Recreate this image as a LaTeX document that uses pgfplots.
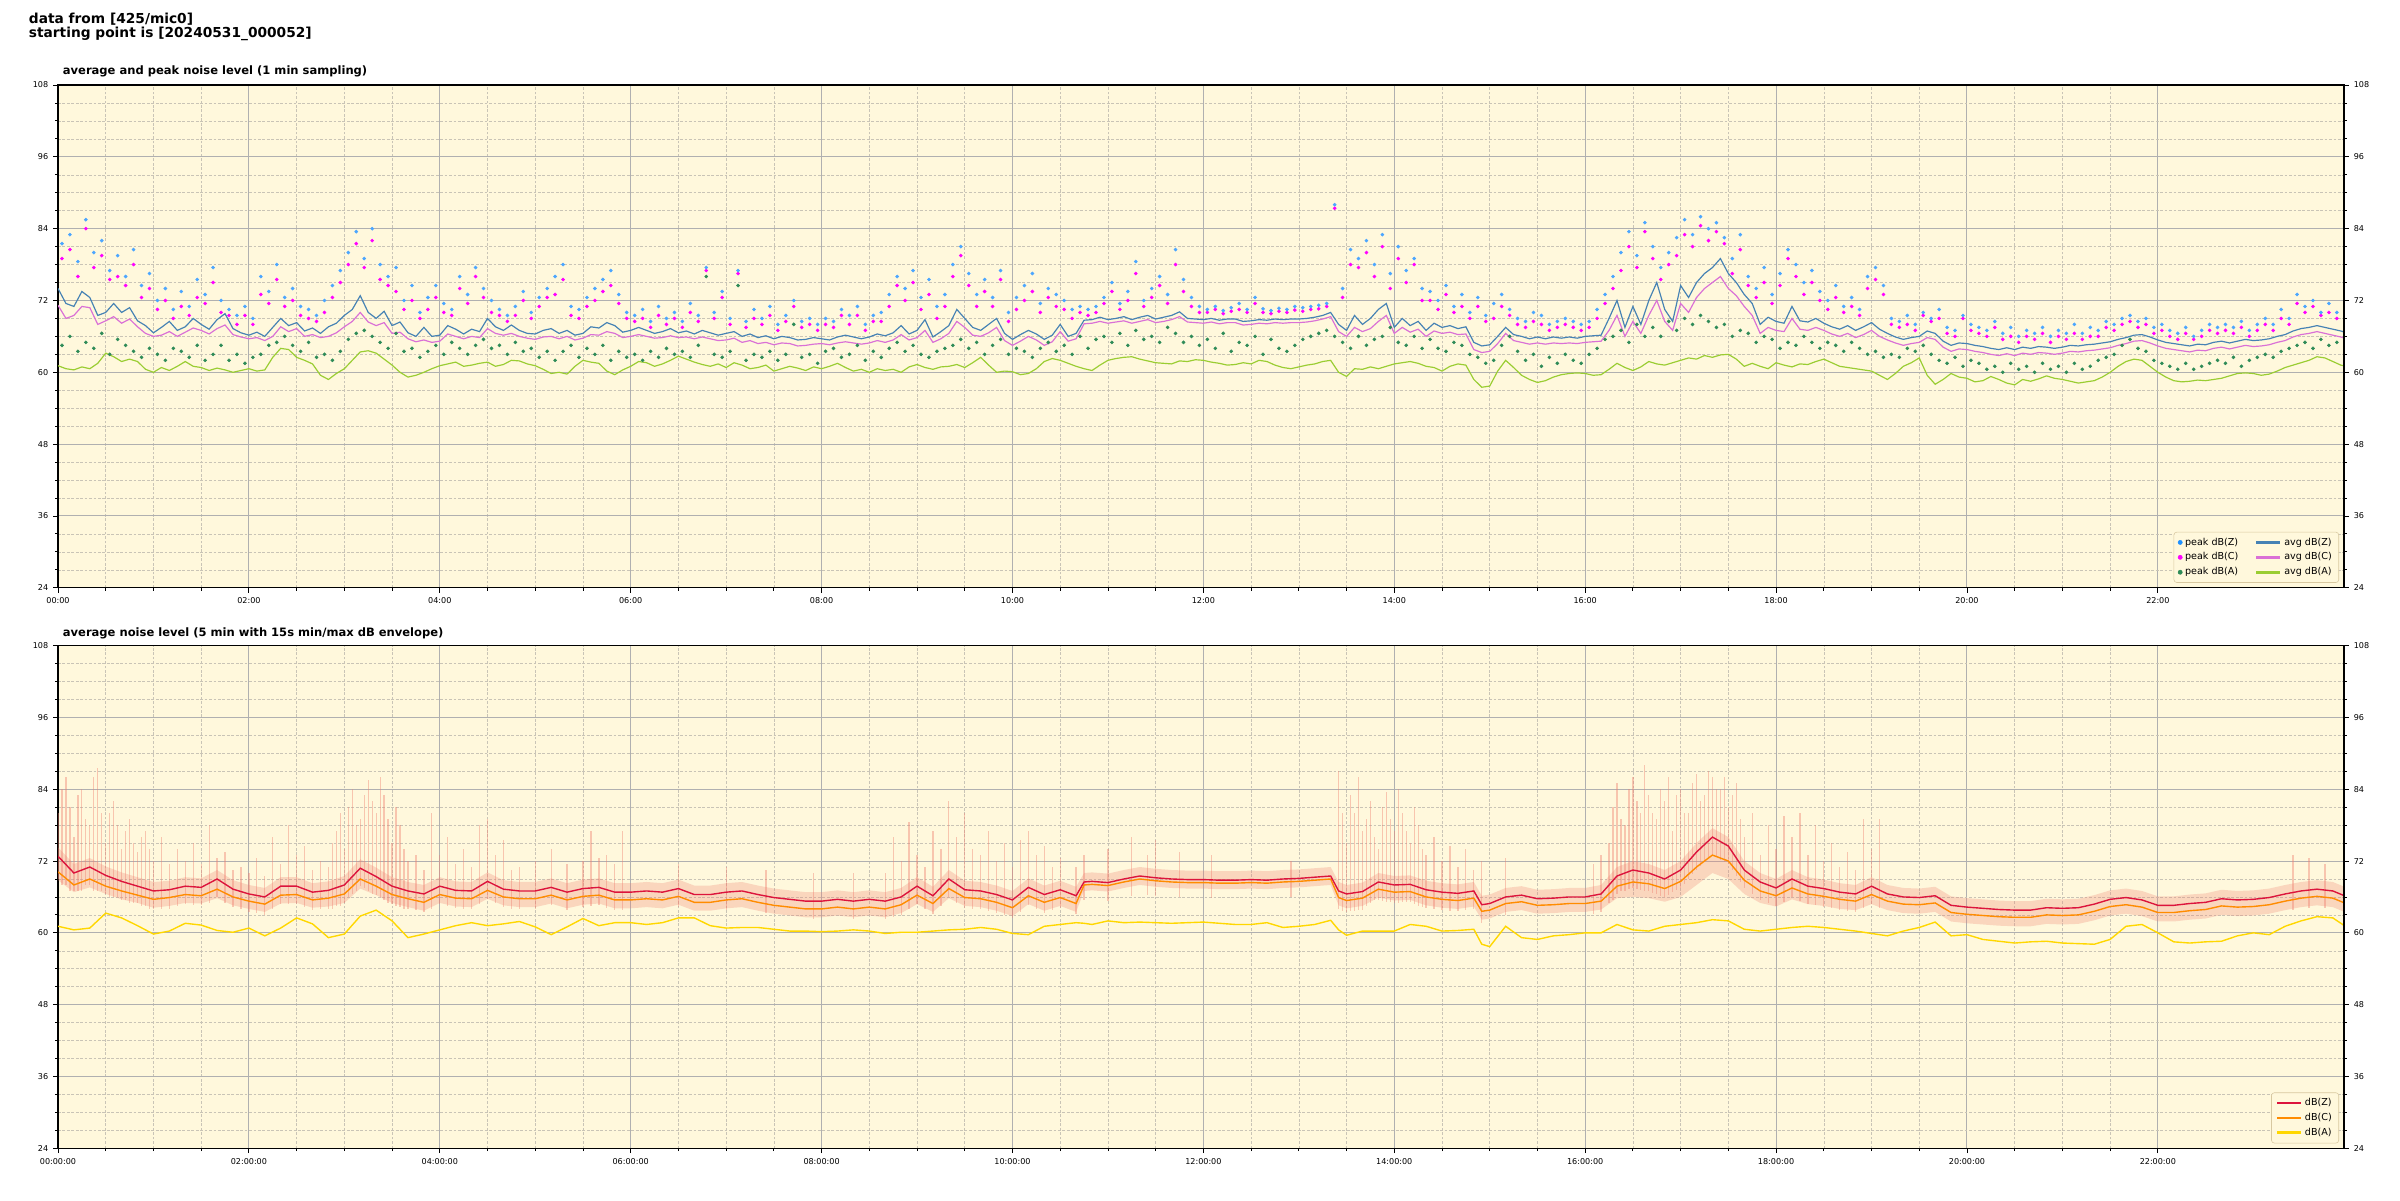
\documentclass[border=0pt]{standalone}
\usepackage{fontspec}
\setmainfont{DejaVu Sans}
\usepackage{pgfplots}
\pgfplotsset{compat=1.18}
\usepackage{pgfplotstable}
\definecolor{bg}{HTML}{FFF8DC}
\definecolor{pkz}{HTML}{1E90FF}
\definecolor{pkc}{HTML}{FF00FF}
\definecolor{pka}{HTML}{2E8B57}
\definecolor{avz}{HTML}{4682B4}
\definecolor{avc}{HTML}{DA70D6}
\definecolor{ava}{HTML}{9ACD32}
\definecolor{dbz}{HTML}{DC143C}
\definecolor{dbc}{HTML}{FF8C00}
\definecolor{dba}{HTML}{FFD700}
\definecolor{env}{HTML}{F08070}
\definecolor{gridmaj}{HTML}{B0B0B0}
\definecolor{gridmin}{HTML}{C9C4B6}
\definecolor{legframe}{HTML}{D8C8A0}

% top chart: 1-min averages (read at 5-min steps)
\pgfplotstableread[row sep=\\]{
t z c a\\
0 74.0 71.2 61.1\\ 5 71.5 69.0 60.6\\ 10 71.0 69.5 60.4\\ 15 73.5 71.0 60.9\\ 20 72.5 70.8 60.6\\ 25 69.5 68.0 61.5\\
30 70.0 68.6 63.2\\ 35 71.5 69.3 62.6\\ 40 70.0 68.2 61.8\\ 45 70.8 68.9 62.2\\ 50 68.6 67.6 61.8\\ 55 67.8 66.5 60.5\\
60 66.6 66.0 60.0\\ 65 67.5 66.2 60.8\\ 70 68.5 66.8 60.3\\ 75 67.0 66.0 61.0\\ 80 67.6 66.7 61.8\\ 85 69.0 67.4 61.0\\
90 68.0 67.0 60.8\\ 95 67.2 66.4 60.3\\ 100 68.8 67.3 60.7\\ 105 69.8 67.9 60.4\\ 110 67.3 66.3 60.0\\ 115 66.6 65.9 60.3\\
120 66.2 65.6 60.6\\ 125 66.7 65.8 60.2\\ 130 66.0 65.3 60.4\\ 135 67.5 66.0 62.5\\ 140 69.0 67.6 64.0\\ 145 67.8 66.8 63.8\\
150 68.3 67.3 62.5\\ 155 66.9 66.0 62.0\\ 160 67.4 66.3 61.4\\ 165 66.5 65.8 59.5\\ 170 67.6 66.0 58.8\\ 175 68.2 66.6 59.8\\
180 69.5 67.6 60.6\\ 185 70.5 68.5 62.0\\ 190 72.8 70.0 63.4\\ 195 70.0 68.4 63.6\\ 200 69.0 67.8 63.2\\ 205 70.2 68.3 62.2\\
210 67.8 66.5 61.2\\ 215 68.4 66.7 60.0\\ 220 66.6 65.6 59.2\\ 225 66.0 65.1 59.5\\ 230 67.5 65.4 60.0\\ 235 66.0 65.0 60.6\\
240 66.2 65.2 61.1\\ 245 67.8 66.4 61.4\\ 250 67.2 66.0 61.7\\ 255 66.4 65.6 61.0\\ 260 67.2 66.0 61.2\\ 265 66.8 65.8 61.5\\
270 69.0 67.3 61.7\\ 275 67.6 66.5 61.0\\ 280 67.0 66.2 61.3\\ 285 67.9 66.5 62.0\\ 290 67.0 66.0 61.9\\ 295 66.5 65.7 61.4\\
300 66.4 65.5 61.1\\ 305 67.0 65.9 60.5\\ 310 67.3 66.0 59.8\\ 315 66.5 65.6 60.0\\ 320 67.0 66.0 59.7\\ 325 66.2 65.4 61.0\\
330 66.5 65.7 62.0\\ 335 67.6 66.3 61.7\\ 340 67.4 66.2 61.5\\ 345 68.3 66.8 60.2\\ 350 67.8 66.5 59.6\\ 355 66.7 65.8 60.4\\
360 67.0 66.0 61.0\\ 365 67.5 66.3 61.8\\ 370 67.0 66.0 61.6\\ 375 66.5 65.7 61.0\\ 380 66.8 65.8 61.4\\ 385 67.3 66.1 62.0\\
390 66.6 65.8 62.7\\ 395 66.9 65.9 62.2\\ 400 66.4 65.6 61.7\\ 405 67.0 65.9 61.3\\ 410 66.6 65.6 61.0\\ 415 66.2 65.3 61.4\\
420 66.5 65.4 60.8\\ 425 66.8 65.7 61.6\\ 430 66.0 65.0 61.2\\ 435 66.4 65.3 60.6\\ 440 65.8 64.8 60.8\\ 445 66.1 65.0 61.2\\
450 65.6 64.6 60.2\\ 455 66.0 64.9 60.6\\ 460 65.8 64.8 61.0\\ 465 65.4 64.4 60.7\\ 470 65.5 64.5 60.3\\ 475 65.8 64.7 60.9\\
480 65.6 64.8 60.6\\ 485 65.4 64.6 61.0\\ 490 65.9 64.9 61.5\\ 495 66.2 65.1 60.8\\ 500 65.9 64.9 60.2\\ 505 65.6 64.7 60.5\\
510 65.9 64.9 60.0\\ 515 66.4 65.3 60.6\\ 520 66.1 65.0 60.3\\ 525 66.6 65.4 60.5\\ 530 67.8 66.3 60.0\\ 535 66.4 65.4 60.9\\
540 67.0 65.8 61.3\\ 545 68.8 67.0 60.8\\ 550 65.9 65.0 60.5\\ 555 66.8 65.6 60.9\\ 560 67.8 66.5 61.0\\ 565 70.5 68.5 61.3\\
570 69.0 67.5 60.8\\ 575 67.5 66.2 61.6\\ 580 67.0 66.0 62.5\\ 585 68.0 66.6 61.2\\ 590 69.0 67.5 60.0\\ 595 66.5 65.3 60.2\\
600 65.5 64.5 60.1\\ 605 66.3 65.2 59.6\\ 610 67.0 66.0 59.8\\ 615 66.4 65.4 60.6\\ 620 65.5 64.5 61.8\\ 625 66.2 65.1 62.3\\
630 68.0 66.8 62.0\\ 635 66.0 65.2 61.5\\ 640 66.5 65.6 61.0\\ 645 68.7 68.1 60.6\\ 650 68.8 68.2 60.3\\ 655 69.2 68.5 61.2\\
660 68.8 68.2 62.0\\ 665 69.0 68.4 62.3\\ 670 69.3 68.6 62.5\\ 675 68.8 68.2 62.6\\ 680 69.2 68.5 62.2\\ 685 69.5 68.8 61.9\\
690 68.9 68.3 61.6\\ 695 69.2 68.5 61.5\\ 700 69.5 68.8 61.4\\ 705 70.1 69.3 61.9\\ 710 69.0 68.4 61.8\\ 715 68.9 68.3 62.1\\
720 68.8 68.2 62.0\\ 725 69.0 68.4 61.7\\ 730 68.7 68.1 61.5\\ 735 68.9 68.3 61.2\\ 740 68.9 68.3 61.3\\ 745 68.5 67.9 61.6\\
750 68.6 68.0 61.4\\ 755 68.8 68.2 62.0\\ 760 68.7 68.1 61.8\\ 765 68.9 68.3 61.2\\ 770 68.8 68.2 60.8\\ 775 68.9 68.3 60.6\\
780 68.9 68.3 60.9\\ 785 69.0 68.4 61.2\\ 790 69.2 68.6 61.4\\ 795 69.5 68.9 61.8\\ 800 70.0 69.3 62.0\\ 805 68.0 66.8 60.0\\
810 67.0 66.0 59.3\\ 815 69.5 67.5 60.6\\ 820 68.0 66.8 60.5\\ 825 69.0 67.3 60.9\\ 830 70.5 68.5 60.6\\ 835 71.5 69.5 61.0\\
840 67.5 66.5 61.4\\ 845 69.0 67.5 61.6\\ 850 67.8 66.7 61.8\\ 855 68.5 67.2 61.5\\ 860 67.0 66.0 61.0\\ 865 68.2 66.9 60.8\\
870 67.5 66.5 60.2\\ 875 67.8 66.7 61.0\\ 880 67.3 66.3 61.4\\ 885 67.6 66.4 61.2\\ 890 65.0 63.8 58.8\\ 895 64.4 63.3 57.5\\
900 64.6 63.5 57.7\\ 905 66.0 64.8 60.2\\ 910 67.5 66.5 62.0\\ 915 66.3 65.3 60.8\\ 920 66.0 65.0 59.5\\ 925 65.6 64.7 58.8\\
930 65.9 64.9 58.3\\ 935 65.6 64.7 58.6\\ 940 65.9 64.9 59.2\\ 945 65.7 64.8 59.6\\ 950 65.9 64.9 59.8\\ 955 65.7 64.8 59.9\\
960 66.0 65.0 59.8\\ 965 66.1 65.1 59.5\\ 970 66.2 65.2 59.6\\ 975 69.0 67.0 60.5\\ 980 72.0 69.5 61.5\\ 985 67.5 66.0 60.8\\
990 71.0 68.5 60.3\\ 995 68.0 66.5 60.9\\ 1000 72.0 69.5 61.8\\ 1005 75.0 72.0 61.4\\ 1010 70.5 68.5 61.2\\ 1015 68.5 67.0 61.6\\
1020 74.5 71.5 62.0\\ 1025 72.5 70.0 62.4\\ 1030 75.0 72.5 62.2\\ 1035 76.5 74.0 62.8\\ 1040 77.5 75.0 62.5\\ 1045 79.0 76.0 62.9\\
1050 76.5 74.0 63.0\\ 1055 75.0 72.8 62.2\\ 1060 73.0 71.0 61.0\\ 1065 71.5 69.5 61.5\\ 1070 68.0 66.5 61.0\\ 1075 69.2 67.5 60.6\\
1080 68.5 67.0 61.6\\ 1085 68.2 66.8 61.2\\ 1090 71.0 69.0 60.9\\ 1095 68.6 67.2 61.4\\ 1100 68.4 67.0 61.3\\ 1105 69.0 67.5 61.8\\
1110 68.2 67.0 62.2\\ 1115 67.6 66.4 61.6\\ 1120 67.2 66.0 61.0\\ 1125 67.8 66.5 60.8\\ 1130 67.0 65.8 60.6\\ 1135 67.6 66.3 60.4\\
1140 68.3 67.0 60.2\\ 1145 67.2 66.0 59.5\\ 1150 66.5 65.4 58.8\\ 1155 65.9 64.9 59.8\\ 1160 65.5 64.5 61.0\\ 1165 65.8 64.8 61.6\\
1170 66.0 65.0 62.4\\ 1175 66.9 65.8 59.5\\ 1180 66.5 65.5 58.0\\ 1185 65.2 64.2 58.8\\ 1190 64.5 63.5 59.8\\ 1195 64.9 63.9 59.2\\
1200 64.8 63.8 59.0\\ 1205 64.5 63.5 58.4\\ 1210 64.3 63.3 58.6\\ 1215 64.0 63.0 59.3\\ 1220 63.8 62.8 58.8\\ 1225 64.1 63.1 58.2\\
1230 63.8 62.8 57.9\\ 1235 64.2 63.2 58.8\\ 1240 64.0 63.0 58.5\\ 1245 64.3 63.3 58.9\\ 1250 64.2 63.2 59.4\\ 1255 64.0 63.0 59.0\\
1260 64.2 63.2 58.8\\ 1265 64.5 63.5 58.5\\ 1270 64.4 63.4 58.2\\ 1275 64.6 63.6 58.4\\ 1280 64.7 63.7 58.6\\ 1285 64.9 63.9 59.2\\
1290 65.1 64.1 60.0\\ 1295 65.5 64.5 61.0\\ 1300 65.8 64.8 61.8\\ 1305 66.2 65.2 62.2\\ 1310 66.3 65.3 62.0\\ 1315 65.9 64.9 61.0\\
1320 65.4 64.4 60.0\\ 1325 65.0 64.0 59.2\\ 1330 64.8 63.8 58.6\\ 1335 64.6 63.6 58.4\\ 1340 64.4 63.4 58.5\\ 1345 64.7 63.7 58.7\\
1350 64.6 63.6 58.6\\ 1355 65.0 64.0 58.8\\ 1360 65.2 64.2 59.0\\ 1365 64.9 63.9 59.4\\ 1370 65.2 64.2 59.8\\ 1375 65.5 64.5 59.9\\
1380 65.3 64.3 59.8\\ 1385 65.4 64.4 59.5\\ 1390 65.6 64.6 59.7\\ 1395 66.0 65.0 60.2\\ 1400 66.3 65.3 60.8\\ 1405 66.9 65.9 61.2\\
1410 67.3 66.3 61.6\\ 1415 67.5 66.5 62.0\\ 1420 67.8 66.8 62.6\\ 1425 67.5 66.5 62.4\\ 1430 67.2 66.2 61.8\\ 1435 66.9 65.9 61.2\\
1440 66.5 65.5 60.9\\
}\avgtab

% top chart: peaks
\pgfplotstableread[row sep=\\]{
t z c a\\
2.5 81.5 79.0 64.5\\ 7.5 83.0 80.5 66.0\\ 12.5 78.5 76.0 63.5\\ 17.5 85.5 84.0 65.0\\ 22.5 80.0 77.5 64.0\\
27.5 82.0 79.5 66.5\\ 32.5 77.0 75.5 63.0\\ 37.5 79.5 76.0 65.5\\ 42.5 76.0 74.5 64.5\\ 47.5 80.5 78.0 63.5\\
52.5 74.5 72.5 62.5\\ 57.5 76.5 74.0 64.0\\ 62.5 72.0 70.5 63.0\\ 67.5 74.0 72.0 62.0\\ 72.5 70.5 69.0 64.0\\
77.5 73.5 71.0 63.5\\ 82.5 71.0 69.5 62.5\\ 87.5 75.5 72.5 64.5\\ 92.5 73.0 71.5 62.0\\ 97.5 77.5 75.0 63.0\\
102.5 72.0 70.0 64.5\\ 107.5 70.5 69.5 62.0\\ 112.5 69.5 68.0 63.0\\ 117.5 71.0 69.5 61.5\\ 122.5 69.0 68.0 62.5\\
127.5 76.0 73.0 63.0\\ 132.5 73.5 71.5 64.5\\ 137.5 78.0 75.5 65.0\\ 142.5 72.5 71.0 66.0\\ 147.5 74.0 72.0 64.5\\
152.5 71.0 69.5 63.5\\ 157.5 70.5 69.0 65.0\\ 162.5 69.5 68.5 62.5\\ 167.5 72.0 70.0 63.0\\ 172.5 74.5 72.5 62.0\\
177.5 77.0 75.0 63.5\\ 182.5 80.0 78.0 65.5\\ 187.5 83.5 81.5 66.5\\ 192.5 79.0 77.5 67.0\\ 197.5 84.0 82.0 66.0\\
202.5 78.0 75.5 65.0\\ 207.5 76.0 74.5 64.0\\ 212.5 77.5 73.5 66.5\\ 217.5 72.0 70.5 63.5\\ 222.5 74.5 72.0 64.0\\
227.5 70.0 69.0 62.5\\ 232.5 72.5 70.5 63.5\\ 237.5 74.5 72.5 64.5\\ 242.5 71.5 70.0 63.0\\ 247.5 70.5 69.5 65.0\\
252.5 76.0 74.0 64.0\\ 257.5 73.0 71.5 63.0\\ 262.5 77.5 76.0 64.5\\ 267.5 74.0 72.5 65.5\\ 272.5 72.0 70.0 64.0\\
277.5 70.5 69.5 64.5\\ 282.5 69.5 68.5 63.0\\ 287.5 71.0 69.5 65.0\\ 292.5 73.5 72.0 63.5\\ 297.5 70.0 69.0 64.0\\
302.5 72.5 71.0 62.5\\ 307.5 74.0 72.5 63.5\\ 312.5 76.0 73.0 62.0\\ 317.5 78.0 75.5 63.5\\ 322.5 71.0 69.5 64.5\\
327.5 70.5 69.0 62.5\\ 332.5 72.5 71.0 64.0\\ 337.5 74.0 72.0 63.0\\ 342.5 75.5 73.5 64.5\\ 347.5 77.0 74.5 62.0\\
352.5 73.0 71.5 63.5\\ 357.5 70.0 69.0 62.5\\ 362.5 69.5 68.5 63.0\\ 367.5 70.5 69.0 62.0\\ 372.5 68.5 67.5 63.5\\
377.5 71.0 69.5 62.5\\ 382.5 69.0 68.0 64.0\\ 387.5 70.0 69.0 63.0\\ 392.5 68.5 67.5 63.5\\ 397.5 71.5 70.0 62.5\\
402.5 69.5 68.5 64.5\\ 407.5 77.5 77.0 76.0\\ 412.5 70.0 69.0 63.0\\ 417.5 73.5 72.5 62.5\\ 422.5 69.0 68.0 63.5\\
427.5 77.0 76.5 74.5\\ 432.5 68.5 67.5 62.0\\ 437.5 70.5 69.0 63.0\\ 442.5 69.0 68.0 62.5\\ 447.5 71.0 69.5 63.5\\
452.5 68.0 67.0 62.0\\ 457.5 69.5 68.5 63.0\\ 462.5 72.0 71.0 68.0\\ 467.5 68.5 67.5 62.5\\ 472.5 69.0 68.0 63.0\\
477.5 68.0 67.0 61.5\\ 482.5 69.0 68.0 63.5\\ 487.5 68.5 67.5 64.0\\ 492.5 70.5 69.5 62.5\\ 497.5 69.5 68.0 63.0\\
502.5 71.0 69.5 64.5\\ 507.5 68.0 67.0 62.0\\ 512.5 69.5 68.5 63.5\\ 517.5 70.0 68.5 62.5\\ 522.5 73.0 71.0 64.0\\
527.5 76.0 74.5 65.0\\ 532.5 74.0 72.0 63.5\\ 537.5 77.0 75.0 64.5\\ 542.5 72.5 70.5 63.0\\ 547.5 75.5 73.0 62.5\\
552.5 71.0 69.0 63.5\\ 557.5 73.0 71.0 64.0\\ 562.5 78.0 76.0 64.5\\ 567.5 81.0 79.5 65.5\\ 572.5 76.5 74.5 64.0\\
577.5 73.0 71.0 65.0\\ 582.5 75.5 73.5 63.0\\ 587.5 72.5 71.0 64.5\\ 592.5 77.0 75.5 65.5\\ 597.5 70.0 68.5 63.0\\
602.5 72.5 70.5 64.0\\ 607.5 74.5 72.0 63.5\\ 612.5 76.5 73.5 62.5\\ 617.5 71.5 70.0 64.0\\ 622.5 74.0 72.5 65.0\\
627.5 73.0 71.0 63.5\\ 632.5 72.0 70.5 64.5\\ 637.5 70.5 69.0 63.0\\ 642.5 71.0 70.0 66.0\\ 647.5 70.5 69.5 64.0\\
652.5 71.0 70.0 65.5\\ 657.5 72.5 71.5 66.0\\ 662.5 75.0 73.5 65.0\\ 667.5 71.5 70.5 66.5\\ 672.5 73.5 72.0 64.5\\
677.5 78.5 76.5 67.0\\ 682.5 72.0 71.0 65.5\\ 687.5 74.0 72.5 66.0\\ 692.5 76.0 74.5 65.0\\ 697.5 73.0 71.5 67.5\\
702.5 80.5 78.0 66.5\\ 707.5 75.5 73.5 65.0\\ 712.5 72.5 71.0 66.0\\ 717.5 71.0 70.0 64.5\\ 722.5 70.5 70.0 65.5\\
727.5 71.0 70.5 64.0\\ 732.5 70.3 69.8 66.5\\ 737.5 70.8 70.2 63.5\\ 742.5 71.5 70.5 65.0\\ 747.5 70.5 70.0 64.5\\
752.5 72.5 71.5 66.0\\ 757.5 70.6 70.0 63.0\\ 762.5 70.3 69.8 65.5\\ 767.5 70.7 70.2 64.0\\ 772.5 70.5 70.0 63.5\\
777.5 71.0 70.4 64.5\\ 782.5 70.8 70.2 65.5\\ 787.5 71.0 70.5 66.0\\ 792.5 71.2 70.6 66.5\\ 797.5 71.5 71.0 67.0\\
802.5 88.0 87.4 66.0\\ 807.5 74.0 72.5 65.0\\ 812.5 80.5 78.0 64.0\\ 817.5 79.0 77.5 66.0\\ 822.5 82.0 80.0 64.5\\
827.5 78.0 76.0 65.5\\ 832.5 83.0 81.0 66.0\\ 837.5 76.5 74.0 67.5\\ 842.5 81.0 79.0 65.0\\ 847.5 77.0 75.0 64.5\\
852.5 79.0 78.0 66.0\\ 857.5 74.0 72.0 64.0\\ 862.5 73.5 72.0 65.5\\ 867.5 72.0 70.5 64.0\\ 872.5 74.5 73.0 63.5\\
877.5 71.0 70.0 65.0\\ 882.5 73.0 71.0 64.5\\ 887.5 70.0 69.0 63.0\\ 892.5 72.5 71.0 62.5\\ 897.5 69.5 68.5 61.5\\
902.5 71.5 69.0 62.0\\ 907.5 73.0 71.0 64.5\\ 912.5 70.5 69.5 66.0\\ 917.5 69.0 68.0 63.5\\ 922.5 68.5 67.5 62.0\\
927.5 70.0 68.5 63.0\\ 932.5 69.5 68.0 61.0\\ 937.5 68.0 67.0 62.5\\ 942.5 68.5 67.5 61.5\\ 947.5 69.0 68.0 63.0\\
952.5 68.5 67.5 62.0\\ 957.5 68.0 67.0 61.5\\ 962.5 68.5 67.5 63.0\\ 967.5 70.5 69.0 64.0\\ 972.5 73.0 71.5 65.5\\
977.5 76.0 74.0 66.0\\ 982.5 80.0 77.0 67.0\\ 987.5 83.5 81.0 65.0\\ 992.5 79.5 77.5 68.0\\ 997.5 85.0 83.5 66.0\\
1002.5 81.0 79.0 67.5\\ 1007.5 77.5 75.5 66.0\\ 1012.5 80.0 78.0 68.5\\ 1017.5 82.5 79.5 67.0\\ 1022.5 85.5 83.0 69.0\\
1027.5 83.0 81.0 68.0\\ 1032.5 86.0 84.5 69.5\\ 1037.5 84.0 82.0 68.5\\ 1042.5 85.0 83.5 67.5\\ 1047.5 82.5 81.5 68.0\\
1052.5 79.0 76.5 66.0\\ 1057.5 83.0 80.5 67.0\\ 1062.5 76.0 74.5 66.5\\ 1067.5 74.0 72.5 65.0\\ 1072.5 77.5 75.0 66.0\\
1077.5 73.0 71.5 65.5\\ 1082.5 76.5 74.5 64.0\\ 1087.5 80.5 79.0 65.0\\ 1092.5 78.0 76.0 64.5\\ 1097.5 75.0 73.0 66.0\\
1102.5 77.0 75.0 65.0\\ 1107.5 73.5 72.0 64.0\\ 1112.5 72.0 70.5 65.0\\ 1117.5 74.5 72.5 64.5\\ 1122.5 71.0 70.0 63.5\\
1127.5 72.5 71.0 65.0\\ 1132.5 70.5 69.5 64.0\\ 1137.5 76.0 74.0 63.0\\ 1142.5 77.5 75.5 63.5\\ 1147.5 74.5 73.0 62.5\\
1152.5 69.0 68.0 63.0\\ 1157.5 68.5 67.5 62.5\\ 1162.5 69.5 68.0 64.0\\ 1167.5 68.0 67.0 63.5\\ 1172.5 70.0 69.5 64.5\\
1177.5 69.0 68.5 63.0\\ 1182.5 70.5 69.0 62.0\\ 1187.5 67.5 66.5 61.5\\ 1192.5 67.0 66.0 62.5\\ 1197.5 69.5 69.0 61.0\\
1202.5 68.0 67.0 62.0\\ 1207.5 67.5 66.5 61.5\\ 1212.5 67.0 66.0 60.5\\ 1217.5 68.5 67.5 61.0\\ 1222.5 66.5 65.5 60.0\\
1227.5 67.5 66.0 61.5\\ 1232.5 66.0 65.0 60.5\\ 1237.5 67.0 66.0 61.0\\ 1242.5 66.5 65.5 60.0\\ 1247.5 67.5 66.5 61.5\\
1252.5 66.0 65.0 60.5\\ 1257.5 67.0 66.0 61.0\\ 1262.5 66.5 65.5 60.0\\ 1267.5 68.0 66.5 61.5\\ 1272.5 66.5 65.5 60.5\\
1277.5 67.5 66.0 61.0\\ 1282.5 67.0 66.0 62.0\\ 1287.5 68.5 67.5 62.5\\ 1292.5 68.0 67.0 63.0\\ 1297.5 69.0 68.0 64.5\\
1302.5 69.5 68.5 65.5\\ 1307.5 68.5 67.5 64.0\\ 1312.5 69.0 68.0 63.5\\ 1317.5 67.5 66.5 62.0\\ 1322.5 68.0 67.0 61.5\\
1327.5 67.0 66.0 61.0\\ 1332.5 66.5 65.5 60.5\\ 1337.5 67.5 66.5 61.5\\ 1342.5 66.0 65.5 60.5\\ 1347.5 67.0 66.0 61.0\\
1352.5 68.0 67.0 61.5\\ 1357.5 67.5 66.5 62.0\\ 1362.5 68.0 67.0 61.5\\ 1367.5 67.5 66.5 62.5\\ 1372.5 68.5 67.5 61.0\\
1377.5 67.0 66.0 62.0\\ 1382.5 68.0 67.0 62.5\\ 1387.5 69.0 68.0 63.0\\ 1392.5 68.0 67.0 62.5\\ 1397.5 70.5 69.0 63.5\\
1402.5 69.0 68.0 64.0\\ 1407.5 73.0 71.5 64.5\\ 1412.5 71.0 70.0 65.0\\ 1417.5 72.0 71.0 64.0\\ 1422.5 70.0 69.5 65.5\\
1427.5 71.5 70.0 64.5\\ 1432.5 70.0 69.0 65.0\\ 1437.5 69.5 68.5 63.5\\
}\peaktab

% bottom chart: 5-min averages
\pgfplotstableread[row sep=\\]{
t z c a\\
0 72.8 70.2 61.1\\ 10 70.0 68.0 60.5\\ 20 71.0 69.0 60.8\\ 30 69.6 67.8 63.3\\
40 68.6 67.0 62.5\\ 50 67.8 66.3 61.2\\ 60 67.0 65.6 59.8\\ 70 67.2 65.9 60.3\\
80 67.8 66.4 61.6\\ 90 67.6 66.2 61.3\\ 100 69.0 67.3 60.4\\ 110 67.3 66.0 60.1\\
120 66.5 65.3 60.8\\ 130 66.0 64.8 59.5\\ 140 67.8 66.3 60.8\\ 150 67.8 66.4 62.5\\
160 66.8 65.5 61.5\\ 170 67.1 65.8 59.2\\ 180 68.0 66.5 59.8\\ 190 70.8 69.0 62.8\\
200 69.4 67.8 63.8\\ 210 67.8 66.4 62.0\\ 220 67.0 65.7 59.2\\ 230 66.5 65.1 59.8\\
240 67.8 66.4 60.5\\ 250 67.1 65.8 61.2\\ 260 67.0 65.7 61.7\\ 270 68.6 67.1 61.2\\
280 67.3 66.0 61.5\\ 290 67.0 65.7 61.9\\ 300 67.0 65.7 61.0\\ 310 67.6 66.3 59.7\\
320 66.8 65.5 61.0\\ 330 67.4 66.1 62.4\\ 340 67.6 66.3 61.2\\ 350 66.8 65.5 61.7\\
360 66.8 65.5 61.7\\ 370 67.0 65.7 61.4\\ 380 66.8 65.5 61.7\\ 390 67.4 66.1 62.5\\
400 66.4 65.1 62.5\\ 410 66.4 65.1 61.2\\ 420 66.8 65.5 60.8\\ 430 67.0 65.7 60.9\\
440 66.4 65.1 60.9\\ 450 65.9 64.6 60.6\\ 460 65.6 64.3 60.3\\ 470 65.3 64.0 60.3\\
480 65.3 64.0 60.2\\ 490 65.6 64.3 60.3\\ 500 65.3 64.0 60.5\\ 510 65.6 64.3 60.3\\
520 65.3 64.0 59.9\\ 530 66.0 64.7 60.1\\ 540 67.8 66.3 60.1\\ 550 66.2 64.9 60.3\\
560 69.0 67.4 60.5\\ 570 67.2 65.9 60.6\\ 580 67.0 65.7 60.9\\ 590 66.4 65.1 60.6\\
600 65.5 64.2 59.9\\ 610 67.6 66.2 59.7\\ 620 66.4 65.1 61.1\\ 630 67.2 65.9 61.4\\
640 66.2 64.9 61.7\\ 645 68.5 68.0 61.6\\ 650 68.6 68.1 61.4\\ 660 68.4 67.9 62.0\\
670 69.0 68.5 61.7\\ 680 69.5 69.0 61.8\\ 690 69.2 68.7 61.7\\ 700 69.0 68.5 61.6\\
710 68.9 68.4 61.7\\ 720 68.9 68.4 61.8\\ 730 68.8 68.3 61.6\\ 740 68.8 68.3 61.4\\
750 68.9 68.4 61.4\\ 760 68.8 68.3 61.7\\ 770 69.0 68.5 60.9\\ 780 69.1 68.6 61.1\\
790 69.3 68.8 61.4\\ 800 69.5 69.0 62.1\\ 805 67.0 65.9 60.5\\ 810 66.5 65.4 59.6\\
820 66.9 65.8 60.3\\ 830 68.5 67.3 60.3\\ 840 68.0 66.8 60.3\\ 850 68.1 66.9 61.4\\
860 67.2 66.0 61.1\\ 870 66.8 65.6 60.3\\ 880 66.6 65.4 60.4\\ 890 67.0 65.8 60.6\\
895 64.7 63.6 58.1\\ 900 64.9 63.8 57.7\\ 910 66.0 64.9 61.1\\ 920 66.3 65.2 59.2\\
930 65.7 64.6 58.9\\ 940 65.8 64.7 59.5\\ 950 66.0 64.9 59.7\\ 960 66.0 64.9 60.0\\
970 66.5 65.3 60.0\\ 980 69.5 67.8 61.4\\ 990 70.5 68.5 60.5\\ 1000 70.0 68.2 60.3\\
1010 69.0 67.4 61.1\\ 1020 70.5 68.6 61.4\\ 1030 73.5 71.0 61.7\\ 1040 76.0 73.0 62.2\\
1050 74.5 72.0 62.0\\ 1060 70.5 68.8 60.6\\ 1070 68.5 67.0 60.3\\ 1080 67.5 66.2 60.6\\
1090 69.0 67.5 60.9\\ 1100 67.8 66.5 61.1\\ 1110 67.4 66.1 60.9\\ 1120 66.8 65.6 60.6\\
1130 66.5 65.3 60.3\\ 1140 67.8 66.4 59.9\\ 1150 66.5 65.3 59.5\\ 1160 66.0 64.8 60.3\\
1170 65.9 64.7 60.9\\ 1180 66.2 65.0 61.8\\ 1190 64.6 63.4 59.5\\ 1200 64.3 63.1 59.7\\
1210 64.1 62.9 58.9\\ 1220 63.9 62.7 58.6\\ 1230 63.8 62.6 58.3\\ 1240 63.8 62.6 58.5\\
1250 64.2 63.0 58.6\\ 1260 64.1 62.9 58.3\\ 1270 64.2 63.0 58.2\\ 1280 64.8 63.6 58.1\\
1290 65.6 64.4 58.9\\ 1300 65.9 64.7 61.1\\ 1310 65.5 64.3 61.4\\ 1320 64.6 63.4 60.0\\
1330 64.6 63.4 58.5\\ 1340 64.9 63.7 58.3\\ 1350 65.1 63.9 58.5\\ 1360 65.7 64.5 58.6\\
1370 65.5 64.3 59.5\\ 1380 65.6 64.4 60.0\\ 1390 65.9 64.7 59.7\\ 1400 66.5 65.3 61.1\\
1410 67.0 65.8 62.0\\ 1420 67.3 66.1 62.7\\ 1430 67.0 65.8 62.5\\ 1440 65.9 64.7 60.7\\
}\bottab

% bottom chart: min/max band (max side forward in time, min side backward)
\pgfplotstableread[row sep=\\]{
t h\\
0 74.3\\ 10 71.5\\ 20 72.5\\ 30 71.1\\ 40 70.1\\ 50 69.3\\ 60 68.5\\ 70 68.7\\ 80 69.3\\ 90 69.1\\
100 70.5\\ 110 68.8\\ 120 68.0\\ 130 67.5\\ 140 69.3\\ 150 69.3\\ 160 68.3\\ 170 68.6\\ 180 69.5\\ 190 72.3\\
200 70.9\\ 210 69.3\\ 220 68.5\\ 230 68.0\\ 240 69.3\\ 250 68.6\\ 260 68.5\\ 270 70.1\\ 280 68.8\\ 290 68.5\\
300 68.5\\ 310 69.1\\ 320 68.3\\ 330 68.9\\ 340 69.1\\ 350 68.3\\ 360 68.3\\ 370 68.5\\ 380 68.3\\ 390 68.9\\
400 67.9\\ 410 67.9\\ 420 68.3\\ 430 68.5\\ 440 67.9\\ 450 67.4\\ 460 67.1\\ 470 66.8\\ 480 66.8\\ 490 67.1\\
500 66.8\\ 510 67.1\\ 520 66.8\\ 530 67.5\\ 540 69.3\\ 550 67.7\\ 560 70.5\\ 570 68.7\\ 580 68.5\\ 590 67.9\\
600 67.0\\ 610 69.1\\ 620 67.9\\ 630 68.7\\ 640 67.7\\ 645 70.0\\ 650 70.1\\ 660 69.9\\ 670 70.5\\ 680 71.0\\
690 70.7\\ 700 70.5\\ 710 70.4\\ 720 70.4\\ 730 70.3\\ 740 70.3\\ 750 70.4\\ 760 70.3\\ 770 70.5\\ 780 70.6\\
790 70.8\\ 800 71.0\\ 805 68.5\\ 810 68.0\\ 820 68.4\\ 830 70.0\\ 840 69.5\\ 850 69.6\\ 860 68.7\\ 870 68.3\\
880 68.1\\ 890 68.5\\ 895 66.2\\ 900 66.4\\ 910 67.5\\ 920 67.8\\ 930 67.2\\ 940 67.3\\ 950 67.5\\ 960 67.5\\
970 68.0\\ 980 71.0\\ 990 72.0\\ 1000 71.5\\ 1010 70.5\\ 1020 72.0\\ 1030 75.0\\ 1040 77.5\\ 1050 76.0\\ 1060 72.0\\
1070 70.0\\ 1080 69.0\\ 1090 70.5\\ 1100 69.3\\ 1110 68.9\\ 1120 68.3\\ 1130 68.0\\ 1140 69.3\\ 1150 68.0\\ 1160 67.5\\
1170 67.4\\ 1180 67.7\\ 1190 66.1\\ 1200 65.8\\ 1210 65.6\\ 1220 65.4\\ 1230 65.3\\ 1240 65.3\\ 1250 65.7\\ 1260 65.6\\
1270 65.7\\ 1280 66.3\\ 1290 67.1\\ 1300 67.4\\ 1310 67.0\\ 1320 66.1\\ 1330 66.1\\ 1340 66.4\\ 1350 66.6\\ 1360 67.2\\
1370 67.0\\ 1380 67.1\\ 1390 67.4\\ 1400 68.0\\ 1410 68.5\\ 1420 68.8\\ 1430 68.5\\ 1440 67.4\\
1440 63.2\\ 1430 64.3\\ 1420 64.6\\ 1410 64.3\\ 1400 63.8\\ 1390 63.2\\ 1380 62.9\\ 1370 62.8\\ 1360 63.0\\ 1350 62.4\\
1340 62.2\\ 1330 61.9\\ 1320 61.9\\ 1310 62.8\\ 1300 63.2\\ 1290 62.9\\ 1280 62.1\\ 1270 61.5\\ 1260 61.4\\ 1250 61.5\\
1240 61.1\\ 1230 61.1\\ 1220 61.2\\ 1210 61.4\\ 1200 61.6\\ 1190 61.9\\ 1180 63.5\\ 1170 63.2\\ 1160 63.3\\ 1150 63.8\\
1140 64.8\\ 1130 63.8\\ 1120 64.0\\ 1110 64.5\\ 1100 64.8\\ 1090 65.6\\ 1080 64.4\\ 1070 65.0\\ 1060 66.5\\ 1050 69.0\\
1040 70.0\\ 1030 68.0\\ 1020 66.0\\ 1010 65.2\\ 1000 65.8\\ 990 66.0\\ 980 65.8\\ 970 63.9\\ 960 63.5\\ 950 63.5\\
940 63.3\\ 930 63.2\\ 920 63.8\\ 910 63.5\\ 900 62.4\\ 895 62.2\\ 890 64.4\\ 880 64.0\\ 870 64.2\\ 860 64.6\\
850 65.5\\ 840 65.4\\ 830 65.9\\ 820 64.5\\ 810 64.1\\ 805 64.6\\ 800 68.0\\ 790 67.8\\ 780 67.6\\ 770 67.5\\
760 67.3\\ 750 67.4\\ 740 67.3\\ 730 67.3\\ 720 67.4\\ 710 67.4\\ 700 67.5\\ 690 67.7\\ 680 68.0\\ 670 67.5\\
660 66.9\\ 650 67.1\\ 645 67.0\\ 640 63.5\\ 630 64.5\\ 620 63.7\\ 610 64.8\\ 600 62.8\\ 590 63.7\\ 580 64.3\\
570 64.5\\ 560 65.8\\ 550 63.5\\ 540 64.8\\ 530 63.3\\ 520 62.6\\ 510 62.9\\ 500 62.6\\ 490 62.9\\ 480 62.6\\
470 62.6\\ 460 62.9\\ 450 63.2\\ 440 63.7\\ 430 64.3\\ 420 64.1\\ 410 63.7\\ 400 63.7\\ 390 64.7\\ 380 64.1\\
370 64.3\\ 360 64.1\\ 350 64.1\\ 340 64.9\\ 330 64.7\\ 320 64.1\\ 310 64.9\\ 300 64.3\\ 290 64.3\\ 280 64.6\\
270 65.7\\ 260 64.3\\ 250 64.4\\ 240 65.0\\ 230 63.7\\ 220 64.3\\ 210 65.0\\ 200 66.3\\ 190 67.4\\ 180 65.0\\
170 64.4\\ 160 64.2\\ 150 65.0\\ 140 64.9\\ 130 63.5\\ 120 64.0\\ 110 64.6\\ 100 65.8\\ 90 64.9\\ 80 65.0\\
70 64.5\\ 60 64.2\\ 50 65.0\\ 40 65.6\\ 30 66.5\\ 20 67.6\\ 10 66.8\\ 0 68.8\\
}\bandtab

% bottom chart: 15 s min/max spikes (from level b down by 3 dB and up to h)
\pgfplotstableread[row sep=\\]{
t b h\\
0 72 80\\ 2.5 71 84\\ 5 71 86\\ 7.5 70 81\\ 10 70 76\\ 12.5 70 83\\ 15 70 84\\ 17.5 71 79\\ 20 71 78\\ 22.5 70 86\\
25 70 87.5\\ 27.5 70 80\\ 30 69.5 75\\ 32.5 69 80\\ 35 69 82\\ 37.5 69 78\\ 40 68.5 74\\ 42.5 68.5 77\\ 45 68 79\\
47.5 68 75\\ 50 68 73.5\\ 52.5 67.5 76\\ 55 67.5 77\\ 57.5 67 74\\ 60 67 72\\ 65 67 76\\ 70 67 71.5\\ 75 67.5 74\\
80 67.8 72\\ 85 67.7 75\\ 90 67.6 71.5\\ 95 68 78\\ 100 69 72.5\\ 105 68 73.5\\ 110 67.3 70.5\\ 115 67 71\\ 120 66.5 70\\
125 66.3 72.5\\ 130 66 69.5\\ 135 67 76\\ 140 67.8 71.5\\ 145 67.8 78\\ 150 67.8 73\\ 155 67.3 74.5\\ 160 66.8 70.5\\
165 67 72\\ 170 67 71\\ 172.5 67 75\\ 175 67.5 77\\ 177.5 67.5 80\\ 180 68 74\\ 182.5 69 81\\ 185 69.5 84\\ 187.5 70 78\\
190 70.8 79\\ 192.5 70.5 83\\ 195 70 85.5\\ 197.5 69.5 82\\ 200 69.4 80\\ 202.5 69 86\\ 205 68.5 83\\ 207.5 68 79\\
210 67.8 75\\ 212.5 67.5 81\\ 215 67.3 78\\ 217.5 67 74\\ 220 67 72\\ 225 66.8 73\\ 230 66.5 70.5\\ 235 67 80\\
240 67.8 73\\ 245 67.5 76\\ 250 67.1 71.5\\ 255 67 74\\ 260 67 71\\ 265 67.8 78\\ 270 68.6 79\\ 275 68 73\\ 280 67.3 75.5\\
285 67 70.5\\ 290 67 71\\ 300 67 72\\ 310 67.6 74\\ 320 66.8 71.5\\ 330 67.4 72\\ 335 67.5 77\\ 340 67.6 72.5\\
345 67.2 73\\ 350 66.8 71.5\\ 355 66.8 77\\ 390 67.4 71.5\\ 420 66.8 71\\ 445 66.4 70.5\\ 475 65.3 70\\ 500 65.3 70\\
520 65.3 70\\ 525 65.6 76\\ 530 66 72\\ 535 67 78.5\\ 540 67.8 73\\ 545 67 71\\ 550 66.2 77\\ 555 67.5 74\\ 560 69 82\\
565 68 76\\ 570 67.2 80\\ 575 67 74\\ 580 67 73\\ 585 66.7 77\\ 590 66.4 72\\ 595 66 75\\ 600 65.5 71\\ 605 66.5 75.5\\
610 67.6 77\\ 615 67 73\\ 620 66.4 74.5\\ 625 66.8 71\\ 630 67.2 72.5\\ 640 66.2 71\\ 645 68.5 73\\ 660 68.4 74\\
675 69.2 76\\ 685 69.3 73\\ 690 69.2 75.5\\ 705 69 73.5\\ 725 68.8 73\\ 775 69 72\\ 805 67 87\\ 807.5 66.7 80\\
810 66.5 75\\ 812.5 66.6 83\\ 815 66.7 80\\ 817.5 66.8 86\\ 820 66.9 77\\ 822.5 67.5 79\\ 825 68 82\\ 827.5 68.5 76\\
830 68.5 74\\ 832.5 68.3 81\\ 835 68.2 83.5\\ 837.5 68.1 79\\ 840 68 77\\ 842.5 68 84\\ 845 68.1 80\\ 847.5 68.1 77\\
850 68.1 75\\ 852.5 67.8 81\\ 855 67.5 78\\ 857.5 67.3 74\\ 860 67.2 73\\ 865 67 76\\ 870 66.8 72\\ 875 66.7 74.5\\
880 66.6 71\\ 885 66.8 74\\ 890 67 70.5\\ 895 64.7 72\\ 910 66 72.5\\ 965 66.2 71.5\\ 970 66.5 73\\ 975 68 75\\
977.5 68.5 81\\ 980 69.5 85\\ 982.5 70 79\\ 985 70 78\\ 987.5 70.3 84\\ 990 70.5 86\\ 992.5 70.3 82\\ 995 70.2 80\\
997.5 70 88\\ 1000 70 83\\ 1002.5 69.7 80\\ 1005 69.5 79\\ 1007.5 69.2 84\\ 1010 69 82\\ 1012.5 69.3 86\\ 1015 69.8 77\\
1017.5 70.2 83\\ 1020 70.5 84\\ 1022.5 71.2 80\\ 1025 72 80\\ 1027.5 72.8 85\\ 1030 73.5 86.5\\ 1032.5 74.2 82\\
1035 75 83\\ 1037.5 75.5 87\\ 1040 76 86\\ 1042.5 75.6 84\\ 1045 75.2 84\\ 1047.5 74.8 86\\ 1050 74.5 81\\
1052.5 73.5 83\\ 1055 72.5 85\\ 1057.5 71.5 79\\ 1060 70.5 76\\ 1065 69.5 80\\ 1070 68.5 73\\ 1075 68 78\\ 1080 67.5 74\\
1085 68.2 79.5\\ 1090 69 76\\ 1095 68.4 80\\ 1100 67.8 73\\ 1105 67.6 78\\ 1110 67.4 72\\ 1115 67.1 75\\ 1120 66.8 71\\
1125 66.6 73.5\\ 1130 66.5 70.5\\ 1135 67.2 79\\ 1140 67.8 74\\ 1145 67.2 79\\ 1405 66.8 73\\ 1415 67.2 72.5\\ 1425 67.1 71.5\\
}\spiketab

\pgfplotsset{
  base/.style={
    scale only axis, width=1645.9pt, height=362pt,
    xmin=0, xmax=1437, ymin=24, ymax=108,
    ytick={24,36,...,108}, minor y tick num=3,
    tick align=outside, major tick length=3.5pt, minor tick length=2pt,
    tick style={black, line width=0.6pt},
    axis line style={black, line width=0.8pt},
    ticklabel style={font=\fontsize{5.8}{7}\selectfont},
    /pgf/number format/assume math mode=true,
  },
  main/.style={
    base,
    xtick={0,120,...,1320}, minor x tick num=3,
    xtick pos=left, ytick pos=left,
    grid=both,
    major grid style={solid, draw=gridmaj, line width=0.7pt},
    minor grid style={draw=gridmin, line width=0.4pt, dash pattern=on 2pt off 1.2pt},
    axis background/.style={fill=bg},
    legend cell align=left,
    legend style={at={(1,0)}, anchor=south east, xshift=-3.6pt, yshift=3.6pt,
      fill=bg, draw=legframe, rounded corners=2pt,
      font=\fontsize{6.9}{8}\selectfont},
  },
  rightax/.style={
    base, hide x axis, axis y line*=right, grid=none, xtick=\empty,
  },
}

\begin{document}
\begin{tikzpicture}
\path[use as bounding box] (0,0) rectangle (1728pt,-864pt);
\node[anchor=base west, font=\bfseries\fontsize{9.9}{12}\selectfont] at (17.3pt,-17.1pt) {data from [425/mic0]};
\node[anchor=base west, font=\bfseries\fontsize{9.9}{12}\selectfont] at (17.3pt,-27.1pt) {starting point is [20240531\_000052]};
\node[anchor=base west, font=\bfseries\fontsize{8.3}{10}\selectfont] at (41.76pt,-54pt) {average and peak noise level (1 min sampling)};
\node[anchor=base west, font=\bfseries\fontsize{8.3}{10}\selectfont] at (41.76pt,-458.4pt) {average noise level (5 min with 15s min/max dB envelope)};

% ---------- top axis
\begin{axis}[main, at={(41.76pt,-61.2pt)}, anchor=north west,
  xticklabels={00:00,02:00,04:00,06:00,08:00,10:00,12:00,14:00,16:00,18:00,20:00,22:00},
  legend columns=2,
  legend style={/tikz/every even column/.append style={column sep=10pt}},
]
\addplot[only marks, mark=*, color=pka, mark size=1.1pt, forget plot] table[x=t, y=a]{\peaktab};
\addplot[only marks, mark=*, color=pkc, mark size=1.1pt, forget plot] table[x=t, y=c]{\peaktab};
\addplot[only marks, mark=*, color=pkz!80!white, mark size=1.1pt, forget plot] table[x=t, y=z]{\peaktab};
\addplot[color=ava, line width=0.85pt, forget plot] table[x=t, y=a]{\avgtab};
\addplot[color=avc, line width=0.85pt, forget plot] table[x=t, y=c]{\avgtab};
\addplot[color=avz, line width=0.85pt, forget plot] table[x=t, y=z]{\avgtab};
\addlegendimage{only marks, mark=*, mark size=1.5pt, color=pkz}
\addlegendentry{peak dB(Z)}
\addlegendimage{line width=2pt, color=avz}
\addlegendentry{avg dB(Z)}
\addlegendimage{only marks, mark=*, mark size=1.5pt, color=pkc}
\addlegendentry{peak dB(C)}
\addlegendimage{line width=2pt, color=avc}
\addlegendentry{avg dB(C)}
\addlegendimage{only marks, mark=*, mark size=1.5pt, color=pka}
\addlegendentry{peak dB(A)}
\addlegendimage{line width=2pt, color=ava}
\addlegendentry{avg dB(A)}
\node[rotate=90, font=\fontsize{7}{8}\selectfont] at ([xshift=-29pt]rel axis cs:0,0.5) {dB SPL};
\node[rotate=90, font=\fontsize{7}{8}\selectfont] at ([xshift=27.4pt]rel axis cs:1,0.5) {dB SPL};
\node[font=\fontsize{7}{8}\selectfont] at ([yshift=-23pt]rel axis cs:0.5,0) {time};
\end{axis}
\begin{axis}[rightax, at={(41.76pt,-61.2pt)}, anchor=north west]
\addplot[draw=none, forget plot] table[x=t, y=z]{\avgtab};
\end{axis}

% ---------- bottom axis
\begin{axis}[main, at={(41.76pt,-464.8pt)}, anchor=north west,
  xticklabels={00:00:00,02:00:00,04:00:00,06:00:00,08:00:00,10:00:00,12:00:00,14:00:00,16:00:00,18:00:00,20:00:00,22:00:00},
]
\addplot[fill=env, fill opacity=0.28, draw=none, forget plot] table[x=t, y=h]{\bandtab};
\addplot[draw=none, mark=none, forget plot,
  error bars/.cd, y dir=both, y explicit,
  error bar style={draw=env, draw opacity=0.42, line width=0.9pt}, error mark=none]
  table[x=t, y=b, y error plus expr=\thisrow{h}-\thisrow{b}, y error minus expr=3]{\spiketab};
\addplot[color=dba, line width=1pt, forget plot] table[x=t, y=a]{\bottab};
\addplot[color=dbc, line width=1pt, forget plot] table[x=t, y=c]{\bottab};
\addplot[color=dbz, line width=1pt, forget plot] table[x=t, y=z]{\bottab};
\addlegendimage{line width=2pt, color=dbz}
\addlegendentry{dB(Z)}
\addlegendimage{line width=2pt, color=dbc}
\addlegendentry{dB(C)}
\addlegendimage{line width=2pt, color=dba}
\addlegendentry{dB(A)}
\node[rotate=90, font=\fontsize{7}{8}\selectfont] at ([xshift=-29pt]rel axis cs:0,0.5) {dB SPL};
\node[rotate=90, font=\fontsize{7}{8}\selectfont] at ([xshift=27.4pt]rel axis cs:1,0.5) {dB SPL};
\node[font=\fontsize{7}{8}\selectfont] at ([yshift=-23pt]rel axis cs:0.5,0) {time};
\end{axis}
\begin{axis}[rightax, at={(41.76pt,-464.8pt)}, anchor=north west]
\addplot[draw=none, forget plot] table[x=t, y=z]{\bottab};
\end{axis}
\end{tikzpicture}
\end{document}
